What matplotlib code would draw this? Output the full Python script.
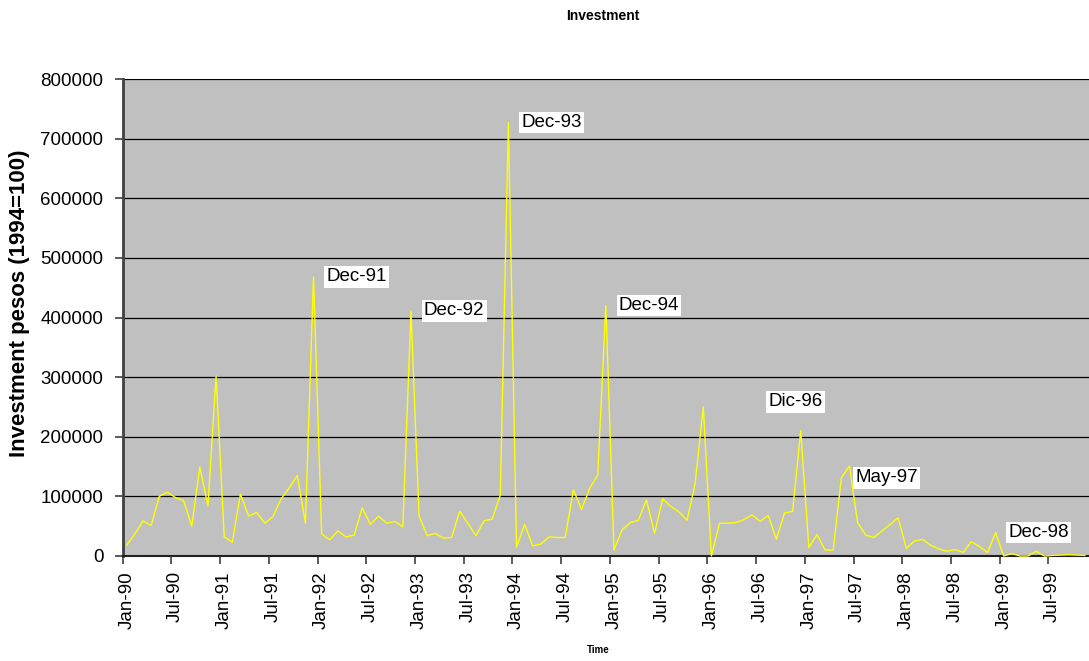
import numpy as np
import matplotlib.pyplot as plt

plt.rcParams['font.family'] = ['Liberation Sans', 'DejaVu Sans']

# monthly investment, Jan-90 .. Nov-99
investment = [
    18000, 37000, 59000, 51000, 100000, 107000, 98000, 93000, 50000, 149000, 84000, 302000,
    32000, 23000, 104000, 67000, 73000, 55000, 66000, 96000, 114000, 135000, 55000, 468000,
    37000, 27000, 42000, 32000, 35000, 81000, 53000, 67000, 55000, 58000, 49000, 411000,
    67000, 34000, 38000, 30000, 31000, 75000, 55000, 34000, 59000, 62000, 102000, 727000,
    15000, 53000, 17000, 20000, 32000, 31000, 31000, 111000, 78000, 113000, 136000, 420000,
    10000, 44000, 56000, 60000, 94000, 38000, 96000, 83000, 74000, 60000, 122000, 250000,
    0, 55000, 55000, 56000, 61000, 69000, 58000, 68000, 28000, 72000, 75000, 210000,
    14000, 36000, 10000, 10000, 131000, 151000, 56000, 35000, 31000, 42000, 53000, 64000,
    13000, 25000, 28000, 18000, 12000, 8000, 11000, 6000, 24000, 16000, 6000, 39000,
    0, 4000, 0, 0, 8000, 0, 1000, 1500, 2000, 1500, 1000,
]

tick_labels = ['Jan-90', 'Jul-90', 'Jan-91', 'Jul-91', 'Jan-92', 'Jul-92', 'Jan-93', 'Jul-93',
               'Jan-94', 'Jul-94', 'Jan-95', 'Jul-95', 'Jan-96', 'Jul-96', 'Jan-97', 'Jul-97',
               'Jan-98', 'Jul-98', 'Jan-99', 'Jul-99']

peak_names = ['Dec-91', 'Dec-92', 'Dec-93', 'Dec-94', 'Dic-96', 'May-97', 'Dec-98']
peak_index = [23, 35, 47, 59, 83, 89, 107]

n = len(investment)
x = np.arange(n) + 0.5

fig = plt.figure(figsize=(10.89, 6.61), dpi=100)
ax = fig.add_axes([122.7/1089, 105/661, 966.3/1089, 477/661])
ax.set_facecolor('#c0c0c0')

ax.plot(x, investment, color='#ffff00', lw=1.0, clip_on=False, zorder=3)

ax.set_xlim(0, n)
ax.set_ylim(0, 800000)
ax.set_yticks(np.arange(0, 800001, 100000))
ax.yaxis.grid(True, color='black', lw=0.9)
ax.set_axisbelow(True)

ax.set_xticks(np.arange(0, n, 6))
ax.set_xticklabels([])
ax.set_xticks(np.arange(0, n, 6) + 0.5, minor=True)
ax.set_xticklabels(tick_labels, minor=True, rotation=90)
ax.tick_params(axis='x', which='major', length=6, width=1.2, color='#404040')
ax.tick_params(axis='x', which='minor', length=0, pad=11, labelsize=13.5)
ax.tick_params(axis='y', length=6, width=1.2, pad=8, labelsize=13.5, color='#404040')

for s in ['top', 'right']:
    ax.spines[s].set_visible(False)
ax.spines['left'].set_color('#404040')
ax.spines['left'].set_linewidth(2)
ax.spines['bottom'].set_color('#202020')
ax.spines['bottom'].set_linewidth(1.5)

offsets = {'Dic-96': (-5, 29, 'center'), 'May-97': (6, -12, 'left')}
for name, i in zip(peak_names, peak_index):
    dx, dy, ha = offsets.get(name, (13, 0, 'left'))
    ax.annotate(name, (x[i], investment[i]), xytext=(dx, dy), textcoords='offset pixels',
                ha=ha, va='center', fontsize=13.5,
                bbox=dict(boxstyle='square,pad=0.12', fc='white', ec='none'), zorder=4)

fig.text(603/1089, 1 - 16/661, 'Investment', ha='center', va='center',
         fontsize=10, fontweight='bold')
fig.text(20/1089, 1 - 303/661, 'Investment pesos (1994=100)', rotation=90,
         ha='center', va='center', fontsize=16, fontweight='bold')
fig.text(598/1089, 1 - 650/661, 'Time', ha='center', va='center',
         fontsize=7, fontweight='bold')

fig.savefig('out.png', dpi=100)
